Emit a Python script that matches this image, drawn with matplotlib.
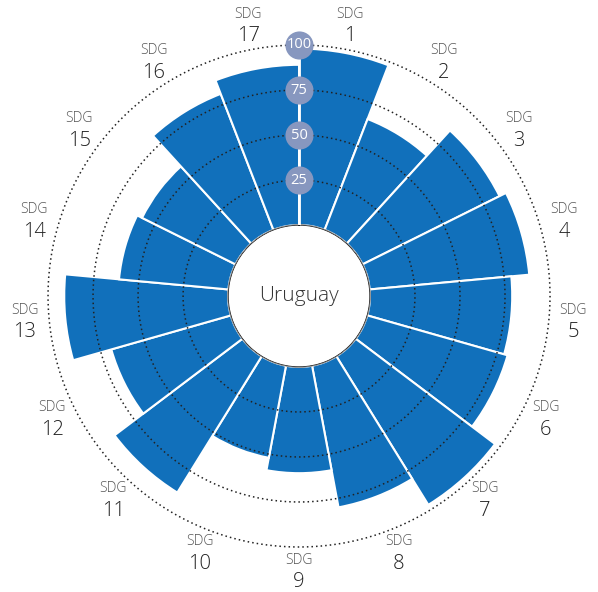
import numpy as np
import matplotlib.pyplot as plt

country = 'Uruguay'
goals = [str(i) for i in range(1, 18)]
scores = [98, 66, 85, 89, 79, 81, 97, 80, 59, 52, 89, 69, 91, 61, 58, 81, 89]
rings = [25, 50, 75, 100]

plt.rcParams['font.family'] = ['Open Sans', 'DejaVu Sans']

blue = '#1170bb'
badge = '#8797bf'

fig = plt.figure(figsize=(5.98, 5.92), dpi=100)
ax = fig.add_axes([0.0803, 0.076, 0.8395, 0.848], projection='polar')
ax.set_theta_zero_location('N')
ax.set_theta_direction(-1)
ax.set_ylim(0, 100)
ax.set_rorigin(-39.4)      # leaves the hole in the middle

n = len(scores)
w = 2 * np.pi / n
theta = np.arange(n) * w
ax.bar(theta, scores, width=w, bottom=0, align='edge', color=blue,
       edgecolor='white', linewidth=1.5, zorder=2)

# dotted rings
t = np.linspace(0, 2 * np.pi, 400)
for r in rings:
    ax.plot(t, np.full_like(t, r), color='#222222', ls=(0, (1, 2)), lw=1.1,
            zorder=3, clip_on=False)

# hole outline
ax.plot(t, np.zeros_like(t), color='#d0d0d0', lw=0.6, zorder=3)

# scale axis with badges
ax.plot([0, 0], [0, 100], color='white', lw=2, zorder=4)
ax.scatter(np.zeros(len(rings)), rings, s=410, color=badge, zorder=5,
           clip_on=False, linewidths=0)
for r in rings:
    ax.text(0, r, str(r), ha='center', va='center', color='white', fontsize=10.5,
            zorder=6)

# SDG labels
lab_r = 113.6
for i, g in enumerate(goals):
    th = (i + 0.5) * w
    ax.annotate('SDG', xy=(th, lab_r), xytext=(0, 11), textcoords='offset pixels',
                ha='center', va='center', fontsize=10, color='#555555',
                fontweight='light', annotation_clip=False)
    ax.annotate(g, xy=(th, lab_r), xytext=(0, -11), textcoords='offset pixels',
                ha='center', va='center', fontsize=14.5, color='#222222',
                fontweight='light', annotation_clip=False)

ax.text(0.5, 0.5, country, transform=ax.transAxes, ha='center', va='center',
        fontsize=15, color='#333333', fontweight='light')

ax.grid(False)
ax.set_xticks([])
ax.set_yticks([])
for s in ax.spines.values():
    s.set_visible(False)

fig.savefig('out.png', dpi=100)
